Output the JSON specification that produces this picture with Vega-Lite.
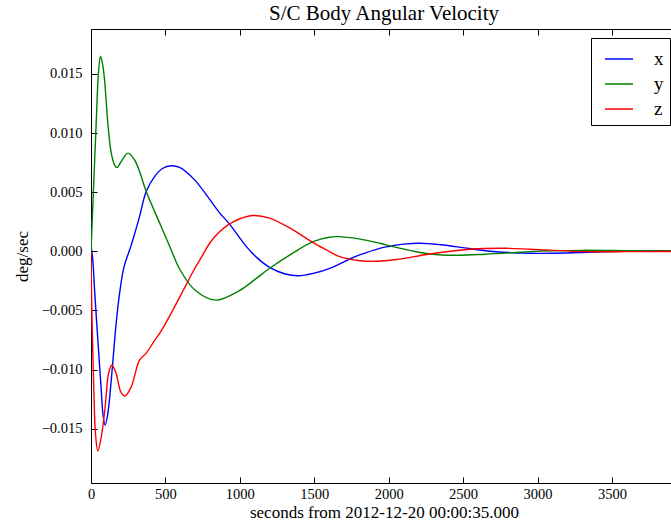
{
  "$schema": "https://vega.github.io/schema/vega-lite/v6.json",
  "autosize": {"type": "none"},
  "padding": {"left": 91, "top": 29, "right": 0, "bottom": 43},
  "width": 586,
  "height": 454,
  "background": "white",
  "title": {"text": "S/C Body Angular Velocity", "font": "Liberation Serif", "fontSize": 21, "fontWeight": "normal", "color": "black", "offset": 5},
  "config": {
    "view": {"stroke": "black", "strokeWidth": 1},
    "axis": {"labelFont": "Liberation Serif", "labelFontSize": 14.5, "labelColor": "black", "titleFont": "Liberation Serif", "titleFontSize": 17, "titleFontWeight": "normal", "titleColor": "black", "tickColor": "black", "domain": false, "grid": false, "tickSize": -6, "labelFlush": false}
  },
  "data": {"values": [
    {"t": 0, "v": 0.00045, "c": "x"},
    {"t": 12, "v": -0.00074, "c": "x"},
    {"t": 24, "v": -0.00328, "c": "x"},
    {"t": 46, "v": -0.0075, "c": "x"},
    {"t": 69, "v": -0.01175, "c": "x"},
    {"t": 80, "v": -0.01373, "c": "x"},
    {"t": 95, "v": -0.01472, "c": "x"},
    {"t": 113, "v": -0.01373, "c": "x"},
    {"t": 136, "v": -0.01091, "c": "x"},
    {"t": 169, "v": -0.0061, "c": "x"},
    {"t": 192, "v": -0.00356, "c": "x"},
    {"t": 222, "v": -0.0013, "c": "x"},
    {"t": 259, "v": 0.0001, "c": "x"},
    {"t": 281, "v": 0.00096, "c": "x"},
    {"t": 326, "v": 0.00293, "c": "x"},
    {"t": 371, "v": 0.00505, "c": "x"},
    {"t": 427, "v": 0.00632, "c": "x"},
    {"t": 480, "v": 0.007, "c": "x"},
    {"t": 540, "v": 0.00723, "c": "x"},
    {"t": 595, "v": 0.00709, "c": "x"},
    {"t": 696, "v": 0.00604, "c": "x"},
    {"t": 864, "v": 0.00325, "c": "x"},
    {"t": 931, "v": 0.0023, "c": "x"},
    {"t": 1044, "v": 0.00039, "c": "x"},
    {"t": 1120, "v": -0.0006, "c": "x"},
    {"t": 1200, "v": -0.00136, "c": "x"},
    {"t": 1300, "v": -0.0019, "c": "x"},
    {"t": 1391, "v": -0.00207, "c": "x"},
    {"t": 1500, "v": -0.00185, "c": "x"},
    {"t": 1604, "v": -0.00144, "c": "x"},
    {"t": 1750, "v": -0.00059, "c": "x"},
    {"t": 1805, "v": -0.00031, "c": "x"},
    {"t": 1940, "v": 0.00025, "c": "x"},
    {"t": 2007, "v": 0.00042, "c": "x"},
    {"t": 2100, "v": 0.0006, "c": "x"},
    {"t": 2209, "v": 0.00068, "c": "x"},
    {"t": 2350, "v": 0.00055, "c": "x"},
    {"t": 2500, "v": 0.00031, "c": "x"},
    {"t": 2650, "v": 0.00005, "c": "x"},
    {"t": 2837, "v": -0.00012, "c": "x"},
    {"t": 2949, "v": -0.00017, "c": "x"},
    {"t": 3083, "v": -0.00017, "c": "x"},
    {"t": 3300, "v": -0.0001, "c": "x"},
    {"t": 3500, "v": -0.00003, "c": "x"},
    {"t": 3700, "v": 0.00003, "c": "x"},
    {"t": 3937, "v": 0.00005, "c": "x"},

    {"t": 0, "v": 0.0, "c": "y"},
    {"t": 12, "v": 0.0038, "c": "y"},
    {"t": 35, "v": 0.01085, "c": "y"},
    {"t": 50, "v": 0.01508, "c": "y"},
    {"t": 64, "v": 0.01649, "c": "y"},
    {"t": 78, "v": 0.0158, "c": "y"},
    {"t": 91, "v": 0.01452, "c": "y"},
    {"t": 113, "v": 0.01085, "c": "y"},
    {"t": 136, "v": 0.0083, "c": "y"},
    {"t": 158, "v": 0.00731, "c": "y"},
    {"t": 174, "v": 0.00708, "c": "y"},
    {"t": 203, "v": 0.00759, "c": "y"},
    {"t": 248, "v": 0.0083, "c": "y"},
    {"t": 292, "v": 0.00774, "c": "y"},
    {"t": 326, "v": 0.00675, "c": "y"},
    {"t": 371, "v": 0.00505, "c": "y"},
    {"t": 472, "v": 0.00208, "c": "y"},
    {"t": 539, "v": 0.00011, "c": "y"},
    {"t": 595, "v": -0.0015, "c": "y"},
    {"t": 700, "v": -0.0033, "c": "y"},
    {"t": 837, "v": -0.00413, "c": "y"},
    {"t": 1000, "v": -0.0033, "c": "y"},
    {"t": 1100, "v": -0.0024, "c": "y"},
    {"t": 1200, "v": -0.00144, "c": "y"},
    {"t": 1350, "v": -0.0002, "c": "y"},
    {"t": 1492, "v": 0.00081, "c": "y"},
    {"t": 1600, "v": 0.00119, "c": "y"},
    {"t": 1660, "v": 0.00124, "c": "y"},
    {"t": 1800, "v": 0.00105, "c": "y"},
    {"t": 1940, "v": 0.00068, "c": "y"},
    {"t": 2030, "v": 0.00039, "c": "y"},
    {"t": 2150, "v": 0.00005, "c": "y"},
    {"t": 2276, "v": -0.00023, "c": "y"},
    {"t": 2456, "v": -0.00034, "c": "y"},
    {"t": 2650, "v": -0.00025, "c": "y"},
    {"t": 2835, "v": -0.00012, "c": "y"},
    {"t": 2949, "v": -0.00003, "c": "y"},
    {"t": 3100, "v": 0.00004, "c": "y"},
    {"t": 3300, "v": 0.00008, "c": "y"},
    {"t": 3500, "v": 0.00006, "c": "y"},
    {"t": 3700, "v": 0.00003, "c": "y"},
    {"t": 3937, "v": 0.00002, "c": "y"},

    {"t": 0, "v": 0.0, "c": "z"},
    {"t": 5, "v": -0.0047, "c": "z"},
    {"t": 19, "v": -0.01175, "c": "z"},
    {"t": 30, "v": -0.0154, "c": "z"},
    {"t": 46, "v": -0.0169, "c": "z"},
    {"t": 69, "v": -0.01571, "c": "z"},
    {"t": 95, "v": -0.01317, "c": "z"},
    {"t": 118, "v": -0.01034, "c": "z"},
    {"t": 140, "v": -0.00962, "c": "z"},
    {"t": 169, "v": -0.01034, "c": "z"},
    {"t": 200, "v": -0.0119, "c": "z"},
    {"t": 228, "v": -0.01225, "c": "z"},
    {"t": 270, "v": -0.01147, "c": "z"},
    {"t": 326, "v": -0.00921, "c": "z"},
    {"t": 371, "v": -0.00862, "c": "z"},
    {"t": 427, "v": -0.00755, "c": "z"},
    {"t": 461, "v": -0.00695, "c": "z"},
    {"t": 550, "v": -0.00497, "c": "z"},
    {"t": 620, "v": -0.0033, "c": "z"},
    {"t": 685, "v": -0.00173, "c": "z"},
    {"t": 750, "v": -0.00033, "c": "z"},
    {"t": 797, "v": 0.00068, "c": "z"},
    {"t": 860, "v": 0.0016, "c": "z"},
    {"t": 931, "v": 0.00231, "c": "z"},
    {"t": 1000, "v": 0.00275, "c": "z"},
    {"t": 1088, "v": 0.00302, "c": "z"},
    {"t": 1200, "v": 0.0028, "c": "z"},
    {"t": 1357, "v": 0.00181, "c": "z"},
    {"t": 1492, "v": 0.00073, "c": "z"},
    {"t": 1582, "v": 0.00011, "c": "z"},
    {"t": 1671, "v": -0.00046, "c": "z"},
    {"t": 1805, "v": -0.0008, "c": "z"},
    {"t": 1918, "v": -0.00085, "c": "z"},
    {"t": 2050, "v": -0.0007, "c": "z"},
    {"t": 2276, "v": -0.00023, "c": "z"},
    {"t": 2545, "v": 0.00017, "c": "z"},
    {"t": 2792, "v": 0.00025, "c": "z"},
    {"t": 2949, "v": 0.00017, "c": "z"},
    {"t": 3083, "v": 0.0001, "c": "z"},
    {"t": 3300, "v": -0.00003, "c": "z"},
    {"t": 3600, "v": -0.00003, "c": "z"},
    {"t": 3937, "v": -0.00002, "c": "z"}
  ]},
  "layer": [
    {
      "mark": {"type": "line", "interpolate": "catmull-rom", "strokeWidth": 1.4, "clip": true},
      "encoding": {
        "x": {"field": "t", "type": "quantitative", "scale": {"domain": [0, 3937], "nice": false, "zero": false},
              "axis": {"orient": "bottom", "values": [0, 500, 1000, 1500, 2000, 2500, 3000, 3500], "format": "d", "title": "seconds from 2012-12-20 00:00:35.000", "labelPadding": 10, "titlePadding": 4}},
        "y": {"field": "v", "type": "quantitative", "scale": {"domain": [-0.0196, 0.0188], "nice": false, "zero": false},
              "axis": {"values": [-0.015, -0.01, -0.005, 0, 0.005, 0.01, 0.015], "format": ".3f", "title": "deg/sec", "labelPadding": 15, "titlePadding": 10}},
        "color": {"field": "c", "type": "nominal", "scale": {"domain": ["x", "y", "z"], "range": ["#0000ff", "#008000", "#ff0000"]},
                  "legend": {"orient": "none", "legendX": 500, "legendY": 9, "title": null, "strokeColor": "black", "fillColor": "white", "padding": 6, "symbolType": "stroke", "symbolSize": 784, "symbolStrokeWidth": 1.5, "symbolOffset": 7, "labelFont": "Liberation Serif", "labelFontSize": 19, "labelColor": "black", "labelOffset": 20, "rowPadding": 0, "cornerRadius": 0}}
      }
    },
    {
      "mark": {"type": "line", "opacity": 0},
      "encoding": {
        "x": {"field": "t", "type": "quantitative", "axis": {"orient": "top", "values": [0, 500, 1000, 1500, 2000, 2500, 3000, 3500], "labels": false, "title": null}},
        "y": {"field": "v", "type": "quantitative"},
        "detail": {"field": "c"}
      }
    }
  ],
  "resolve": {"axis": {"x": "independent"}}
}
